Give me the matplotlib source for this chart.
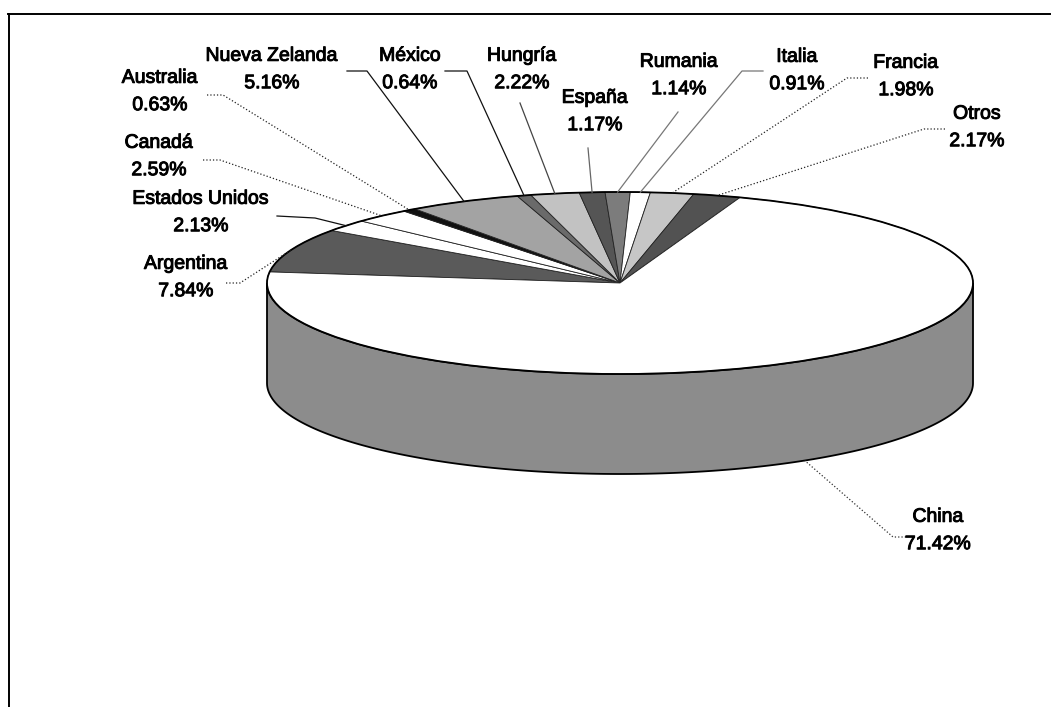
import numpy as np
import matplotlib.pyplot as plt
import matplotlib.patheffects as pe
from matplotlib.patches import Circle, Polygon

plt.rcParams['font.family'] = ['Liberation Sans', 'DejaVu Sans']

# shares in %, in drawing order (clockwise from the left edge of the pie)
countries = ["Argentina", "Estados Unidos", "Canadá", "Australia", "Nueva Zelanda",
             "México", "Hungría", "España", "Rumania", "Italia", "Francia", "Otros", "China"]
shares = [7.84, 2.13, 2.59, 0.63, 5.16, 0.64, 2.22, 1.17, 1.14, 0.91, 1.98, 2.17, 71.42]

slice_colors = ["#5a5a5a", "#ffffff", "#ffffff", "#111111", "#a3a3a3", "#6a6a6a",
                "#c2c2c2", "#555555", "#7c7c7c", "#ffffff", "#c6c6c6", "#525252", "#ffffff"]
side_color = "#8c8c8c"

# label layout (image pixels): text centre, leader start, elbow (or None)
label_xy = [(186, 278), (201, 213), (159, 157), (160, 92), (272, 70), (410, 70),
            (522, 70), (595, 112), (679, 76), (797, 71), (906, 77), (977, 128), (938, 531)]
leader_start = [(226, 283), (277, 216), (203, 160), (207, 95), (347, 71), (445, 71),
                (520, 103), (588, 148), (678, 112), (763, 71), (868, 78), (945, 129), (906, 537)]
leader_elbow = [(240, 283), (315, 218), (220, 160), (223, 95), (367, 71), (467, 71),
                None, None, None, (742, 71), (847, 78), (924, 129), (893, 537)]
leader_ls = [":", "-", ":", ":", "-", "-", "-", "-", "-", "-", ":", ":", ":"]
leader_col = ["#222222", "#111111", "#222222", "#222222", "#111111", "#111111",
              "#444444", "#666666", "#777777", "#777777", "#222222", "#222222", "#333333"]

W, H = 1055, 707
CX, CY = 620, 283      # pie centre
RX, RY = 353, 91       # ellipse radii of the top face
DEPTH = 100            # thickness of the pie


def to_pie(x, y):
    return (x - CX) / RX, (CY - y) / RY


fig = plt.figure(figsize=(W / 100, H / 100), dpi=100)
ax = fig.add_axes([0, 0, 1, 1])

wedges, _ = ax.pie(shares, colors=slice_colors, startangle=173, counterclock=False,
                   wedgeprops=dict(edgecolor="#222222", linewidth=0.6, zorder=2))

ax.set_aspect('auto')
ax.set_xlim(-CX / RX, (W - CX) / RX)
ax.set_ylim((CY - H) / RY, CY / RY)
ax.axis('off')

# side wall (front half, all China)
d = DEPTH / RY
t = np.linspace(np.pi, 2 * np.pi, 300)
side_x = np.concatenate([np.cos(t), np.cos(t[::-1])])
side_y = np.concatenate([np.sin(t), np.sin(t[::-1]) - d])
ax.add_patch(Polygon(np.column_stack([side_x, side_y]), closed=True,
                     facecolor=side_color, edgecolor="black", linewidth=1.3, zorder=1))
ax.add_patch(Circle((0, 0), 1, fill=False, edgecolor="black", linewidth=1.3, zorder=3))

# labels and leader lines
thick = [pe.withStroke(linewidth=0.7, foreground="black")]
for i, name in enumerate(countries):
    w = wedges[i]
    mid = np.deg2rad((w.theta1 + w.theta2) / 2)
    rim = (np.cos(mid), np.sin(mid))
    if name == "China":
        rim = (np.cos(mid), np.sin(mid) - d)
    pts = [to_pie(*leader_start[i])]
    if leader_elbow[i] is not None:
        pts.append(to_pie(*leader_elbow[i]))
    pts.append(rim)
    pts = np.array(pts)
    ax.plot(pts[:, 0], pts[:, 1], color=leader_col[i], linestyle=leader_ls[i],
            linewidth=0.9, zorder=4)
    tx, ty = to_pie(*label_xy[i])
    ax.text(tx, ty, f"{name}\n{shares[i]:.2f}%", ha='center', va='center',
            fontsize=14, linespacing=1.8, color="black", zorder=5,
            path_effects=thick)

# frame lines (top and left only)
fx, fy = zip(to_pie(8, 14), to_pie(1050, 14))
ax.plot(fx, fy, color="black", linewidth=1.4, clip_on=False)
fx, fy = zip(to_pie(9, 14), to_pie(9, 707))
ax.plot(fx, fy, color="black", linewidth=1.4, clip_on=False)

fig.savefig("out.png", dpi=100)
